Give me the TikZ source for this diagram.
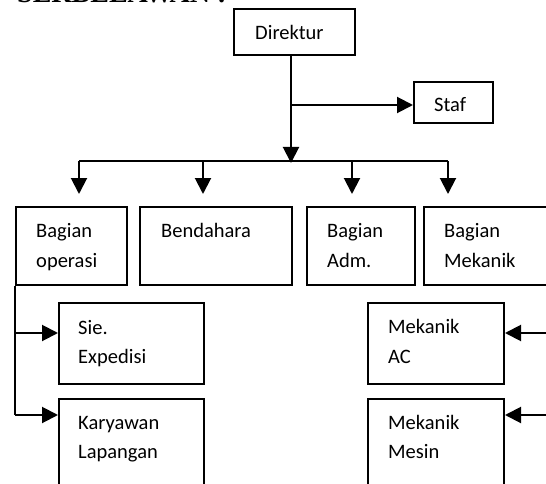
\documentclass[tikz,border=0pt]{standalone}
\usepackage{fontspec}
\setmainfont{Carlito}
\newfontfamily\titlefont{Liberation Serif}
\usetikzlibrary{arrows.meta}
\begin{document}
\begin{tikzpicture}[x=1pt,y=-1pt,
  box/.style={draw,line width=2pt,rectangle,inner sep=0pt,anchor=north west},
  lbl/.style={anchor=base west,inner sep=0pt,font=\fontsize{20.5}{24}\selectfont},
  conn/.style={line width=2pt},
  arr/.style={line width=2pt,-{Triangle[length=16pt,width=16pt]}}]
\useasboundingbox (0,0) rectangle (546,484);
% title (cut off at the top)
\node[anchor=base west,inner sep=0pt,font=\titlefont\bfseries\fontsize{28}{30}\selectfont] (title) at (17,3) {SERBELAWAN :};
% boxes
\node[box,minimum width=121pt,minimum height=46pt] (dir) at (233,8) {};
\node[lbl] (dirt) at (255,40) {Direktur};
\node[box,minimum width=79pt,minimum height=41pt] (staf) at (413,81) {};
\node[lbl] (staft) at (434,112) {Staf};
\node[box,minimum width=111pt,minimum height=78pt] (op) at (15,206) {};
\node[lbl] (opt1) at (36,237) {Bagian};
\node[lbl] (opt2) at (36,267) {operasi};
\node[box,minimum width=152pt,minimum height=78pt] (ben) at (139,206) {};
\node[lbl] (bent) at (161,237) {Bendahara};
\node[box,minimum width=108pt,minimum height=78pt] (adm) at (306,206) {};
\node[lbl] (admt1) at (327,237) {Bagian};
\node[lbl] (admt2) at (327,267) {Adm.};
\node[box,minimum width=150pt,minimum height=78pt] (mek) at (423,206) {};
\node[lbl] (mekt1) at (444,237) {Bagian};
\node[lbl] (mekt2) at (444,267) {Mekanik};
\node[box,minimum width=145pt,minimum height=81pt] (sie) at (58,302) {};
\node[lbl] (siet1) at (78,334) {Sie.};
\node[lbl] (siet2) at (78,363) {Expedisi};
\node[box,minimum width=145pt,minimum height=110pt] (kar) at (58,398) {};
\node[lbl] (kart1) at (78,429) {Karyawan};
\node[lbl] (kart2) at (78,458) {Lapangan};
\node[box,minimum width=136pt,minimum height=81pt] (mac) at (367,302) {};
\node[lbl] (mact1) at (388,333) {Mekanik};
\node[lbl] (mact2) at (388,363) {AC};
\node[box,minimum width=136pt,minimum height=110pt] (mms) at (367,398) {};
\node[lbl] (mmst1) at (388,429) {Mekanik};
\node[lbl] (mmst2) at (388,458) {Mesin};
% coordinates
\coordinate (bus) at (291,161);
\coordinate (sb) at (291,105);
\coordinate (b1) at (79,161);
\coordinate (b2) at (203,161);
\coordinate (b3) at (352,161);
\coordinate (b4) at (448,161);
\coordinate (t1) at (79,194);
\coordinate (t2) at (203,194);
\coordinate (t3) at (352,194);
\coordinate (t4) at (448,194);
\coordinate (l1) at (15,333);
\coordinate (l2) at (15,415);
\coordinate (r1) at (560,333);
\coordinate (r2) at (560,415);
% connectors
\draw[arr] (dir.south -| bus) -- ([yshift=-2pt]bus);
\draw[arr] (sb) -- (staf.west |- sb);
\draw[conn] (b1) -- (b4);
\draw[arr] (b1) -- (t1);
\draw[arr] (b2) -- (t2);
\draw[arr] (b3) -- (t3);
\draw[arr] (b4) -- (t4);
\draw[conn] (op.south west) -- (l2);
\draw[arr] (l1) -- (sie.west |- l1);
\draw[arr] (l2) -- (kar.west |- l2);
\draw[arr] (r1) -- (mac.east |- r1);
\draw[arr] (r2) -- (mms.east |- r2);
\end{tikzpicture}
\end{document}
